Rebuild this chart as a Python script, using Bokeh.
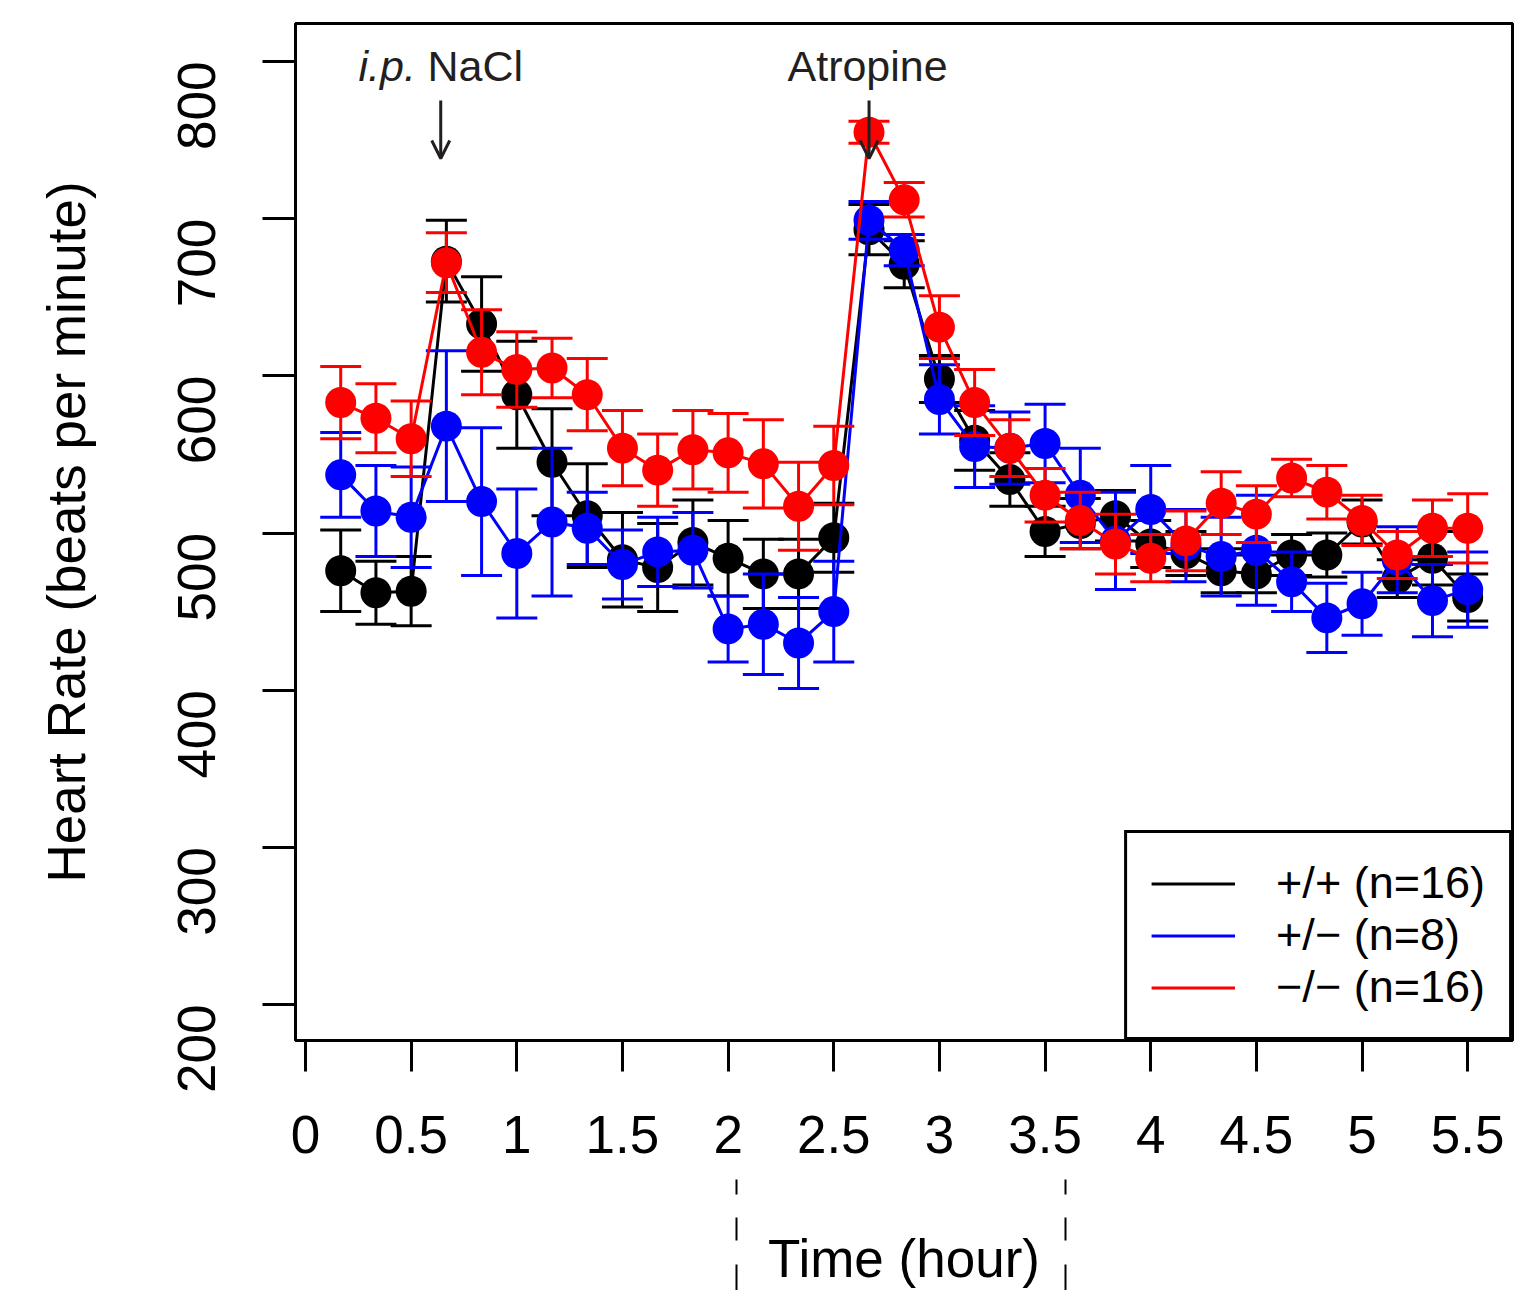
import math
from bokeh.plotting import figure
from bokeh.models import (Range1d, FixedTicker, Legend, LegendItem, Label, Arrow, OpenHead,
                          LinearAxis)
from bokeh.embed import file_html
from bokeh.resources import INLINE

# ---------------- data ----------------
time_min = [10, 20, 30, 40, 50, 60, 70, 80, 90, 100, 110, 120, 130, 140, 150, 160, 170,
            180, 190, 200, 210, 220, 230, 240, 250, 260, 270, 280, 290, 300, 310, 320, 330]

wt_mean = [476, 462, 463, 673, 633, 588, 545, 511, 483, 478, 494, 484, 474, 474, 497, 693, 671,
           598, 559, 534, 501, 506, 511, 493, 487, 476, 474, 486, 486, 507, 471, 484, 459]
wt_se = [26, 20, 22, 26, 30, 34, 34, 33, 30, 28, 27, 24, 22, 22, 22, 16, 15,
         15, 19, 17, 16, 16, 16, 15, 14, 14, 12, 13, 14, 14, 12, 17, 15]

het_mean = [537, 514, 510, 568, 520, 487, 507, 503, 480, 488, 489, 439, 442, 430, 450, 699, 680,
            585, 555, 554, 557, 524, 495, 515, 492, 485, 489, 469, 446, 455, 483, 457, 464]
het_se = [27, 29, 32, 48, 47, 41, 47, 23, 22, 22, 24, 21, 32, 29, 32, 12, 10,
          22, 26, 23, 25, 30, 31, 28, 23, 25, 35, 19, 22, 20, 21, 23, 24]

ko_mean = [583, 573, 560, 672, 615, 604, 605, 588, 554, 540, 553, 551, 544, 517, 543, 755, 712,
           631, 583, 554, 524, 508, 493, 484, 495, 519, 512, 535, 526, 508, 486, 503, 503]
ko_se = [23, 22, 24, 19, 27, 24, 19, 23, 24, 23, 25, 25, 28, 28, 25, 7, 11,
         20, 21, 18, 17, 18, 19, 15, 19, 20, 18, 12, 17, 16, 15, 18, 22]

series_labels = ["+/+ (n=16)", "+/\u2212 (n=8)", "\u2212/\u2212 (n=16)"]
series_colors = ["#000000", "#0000FF", "#FF0000"]

x_ticks = [0, 0.5, 1, 1.5, 2, 2.5, 3, 3.5, 4, 4.5, 5, 5.5]
x_tick_labels = ["0", "0.5", "1", "1.5", "2", "2.5", "3", "3.5", "4", "4.5", "5", "5.5"]
y_ticks = [200, 300, 400, 500, 600, 700, 800]
# positions (hours) of the two dashed guide marks below the time axis
guide_marks = [2.04, 3.597]

FONT = "Liberation Sans"
TXT = "#231f20"

hours = [t / 60 for t in time_min]

p = figure(width=1514, height=1290,
           x_range=Range1d(-0.0473, 5.712), y_range=Range1d(177.1, 824.2),
           output_backend="svg", toolbar_location=None,
           min_border_left=295, min_border_right=2, min_border_top=23, min_border_bottom=249)
p.grid.visible = False
p.outline_line_color = "black"
p.outline_line_width = 3
p.outline_line_alpha = 1
p.background_fill_color = "white"
p.border_fill_color = "white"

# x axis
xa = p.xaxis[0]
xa.ticker = FixedTicker(ticks=x_ticks, minor_ticks=[])
xa.major_label_overrides = dict(zip(x_ticks, x_tick_labels))
xa.bounds = (0, 5.5)
xa.axis_line_width = 3
xa.major_tick_out = 31
xa.major_tick_in = 0
xa.minor_tick_out = 0
xa.minor_tick_in = 0
xa.major_tick_line_width = 3
xa.major_label_text_font = FONT
xa.major_label_text_font_size = "53px"
xa.major_label_text_color = "black"
xa.major_label_standoff = 44

# second axis below: dashed guide marks + axis title
xb = LinearAxis(ticker=FixedTicker(ticks=guide_marks, minor_ticks=[]),
                major_label_overrides={g: "" for g in guide_marks},
                major_label_text_font_size="1px", major_label_standoff=0,
                axis_line_color=None, major_tick_in=0, major_tick_out=140,
                minor_tick_out=0, minor_tick_in=0,
                major_tick_line_color="black", major_tick_line_width=2,
                major_tick_line_dash="31 24 23 23 15 300",
                axis_label="Time (hour)", axis_label_text_font=FONT,
                axis_label_text_font_size="53px", axis_label_text_font_style="normal",
                axis_label_text_color="black", axis_label_standoff=-67)
p.add_layout(xb, "below")

# y axis
ya = p.yaxis[0]
ya.ticker = FixedTicker(ticks=y_ticks)
ya.bounds = (200, 800)
ya.axis_line_width = 3
ya.major_tick_out = 33
ya.major_tick_in = 0
ya.minor_tick_out = 0
ya.minor_tick_in = 0
ya.major_tick_line_width = 3
ya.major_label_orientation = math.pi / 2
ya.major_label_text_font = FONT
ya.major_label_text_font_size = "53px"
ya.major_label_text_color = "black"
ya.major_label_standoff = 66
ya.axis_label = "Heart Rate (beats per minute)"
ya.axis_label_text_font = FONT
ya.axis_label_text_font_size = "53px"
ya.axis_label_text_font_style = "normal"
ya.axis_label_text_color = "black"
ya.axis_label_standoff = 61

# series
line_renderers = []
for mean, se, col in [(wt_mean, wt_se, series_colors[0]),
                      (het_mean, het_se, series_colors[1]),
                      (ko_mean, ko_se, series_colors[2])]:
    upper = [m + s for m, s in zip(mean, se)]
    lower = [m - s for m, s in zip(mean, se)]
    lr = p.line(hours, mean, line_color=col, line_width=3)
    line_renderers.append(lr)
    p.scatter(hours, mean, size=31, fill_color=col, line_color=None)
    p.segment(x0=hours, y0=lower, x1=hours, y1=upper, line_color=col, line_width=3)
    p.scatter(hours, upper, marker="dash", size=41, line_color=col, line_width=3)
    p.scatter(hours, lower, marker="dash", size=41, line_color=col, line_width=3)

legend = Legend(items=[LegendItem(label=lbl, renderers=[r])
                       for lbl, r in zip(series_labels, line_renderers)],
                location="bottom_right", margin=0, padding=24, spacing=0,
                glyph_width=84, glyph_height=51, label_height=51, label_standoff=41,
                label_text_font=FONT, label_text_font_size="45px", label_text_color="black",
                border_line_color="black", border_line_width=3, border_line_alpha=1,
                background_fill_color="white", background_fill_alpha=1)
p.add_layout(legend, "center")

# annotations
p.add_layout(Label(x=0.251, y=797, text="i.p.", text_font=FONT, text_font_size="43px",
                   text_font_style="italic", text_color=TXT, text_align="left",
                   text_baseline="alphabetic"))
p.add_layout(Label(x=0.577, y=797, text="NaCl", text_font=FONT, text_font_size="43px",
                   text_color=TXT, text_align="left", text_baseline="alphabetic"))
p.add_layout(Label(x=2.66, y=797, text="Atropine", text_font=FONT, text_font_size="43px",
                   text_color=TXT, text_align="center", text_baseline="alphabetic"))
for ax in (0.64, 2.667):
    p.add_layout(Arrow(x_start=ax, y_start=775.2, x_end=ax, y_end=738.3,
                       line_color=TXT, line_width=3,
                       end=OpenHead(size=18, line_color=TXT, line_width=3)))

open("out.html", "w").write(file_html(p, INLINE))
